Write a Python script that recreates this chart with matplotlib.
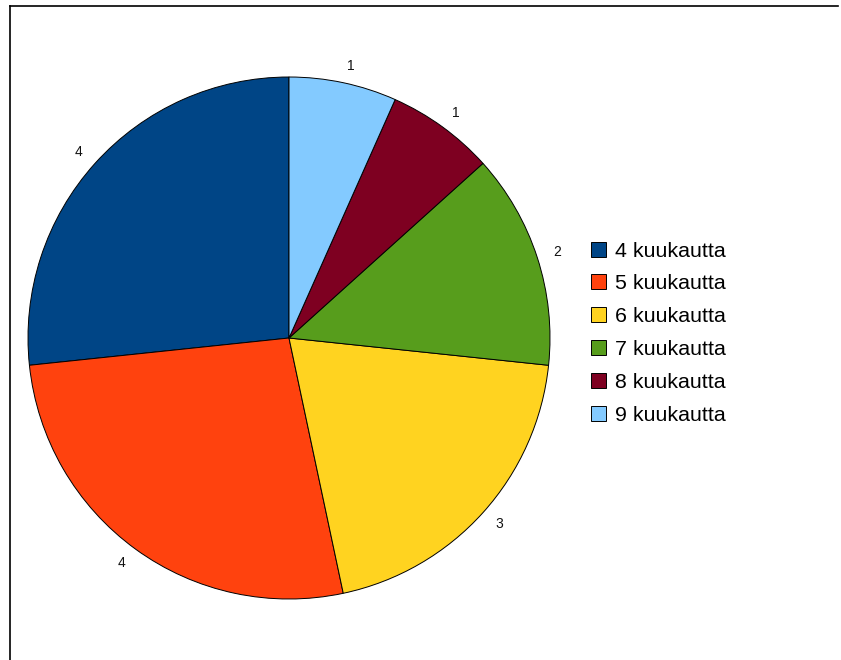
import matplotlib.pyplot as plt
from matplotlib.lines import Line2D

categories = ["4 kuukautta", "5 kuukautta", "6 kuukautta", "7 kuukautta", "8 kuukautta", "9 kuukautta"]
counts = [4, 4, 3, 2, 1, 1]
colors = ["#004586", "#ff420e", "#ffd320", "#579d1c", "#7e0021", "#83caff"]

W, H = 841, 660
fig = plt.figure(figsize=(W / 100, H / 100), dpi=100)
plt.rcParams["font.family"] = ["Liberation Sans", "DejaVu Sans"]

# pie centre and radius in pixels
cx, cy, r = 289, 338, 261
ax = fig.add_axes([(cx - r) / W, (H - cy - r) / H, 2 * r / W, 2 * r / H])
wedges, texts = ax.pie(
    counts,
    colors=colors,
    labels=[str(c) for c in counts],
    startangle=90,
    counterclock=True,
    labeldistance=1.065,
    wedgeprops=dict(edgecolor="black", linewidth=0.7),
    textprops=dict(fontsize=10, color="#111111"),
)
ax.set_xlim(-1, 1)
ax.set_ylim(-1, 1)
ax.set_aspect("equal")
ax.axis("off")
for t in texts:
    t.set_clip_on(False)

fig.legend(
    wedges,
    categories,
    loc="upper left",
    bbox_to_anchor=(582 / W, 1 - 233 / H),
    frameon=False,
    fontsize=15.4,
    handlelength=0.7,
    handleheight=0.7,
    handletextpad=0.45,
    labelspacing=0.645,
    borderaxespad=0,
)

# border lines along top and left
fig.add_artist(Line2D([10 / W, 838 / W], [1 - 6 / H, 1 - 6 / H], color="black", linewidth=1.2, transform=fig.transFigure))
fig.add_artist(Line2D([10 / W, 10 / W], [0, 1 - 6 / H], color="black", linewidth=1.2, transform=fig.transFigure))

fig.savefig("out.png", dpi=100)
